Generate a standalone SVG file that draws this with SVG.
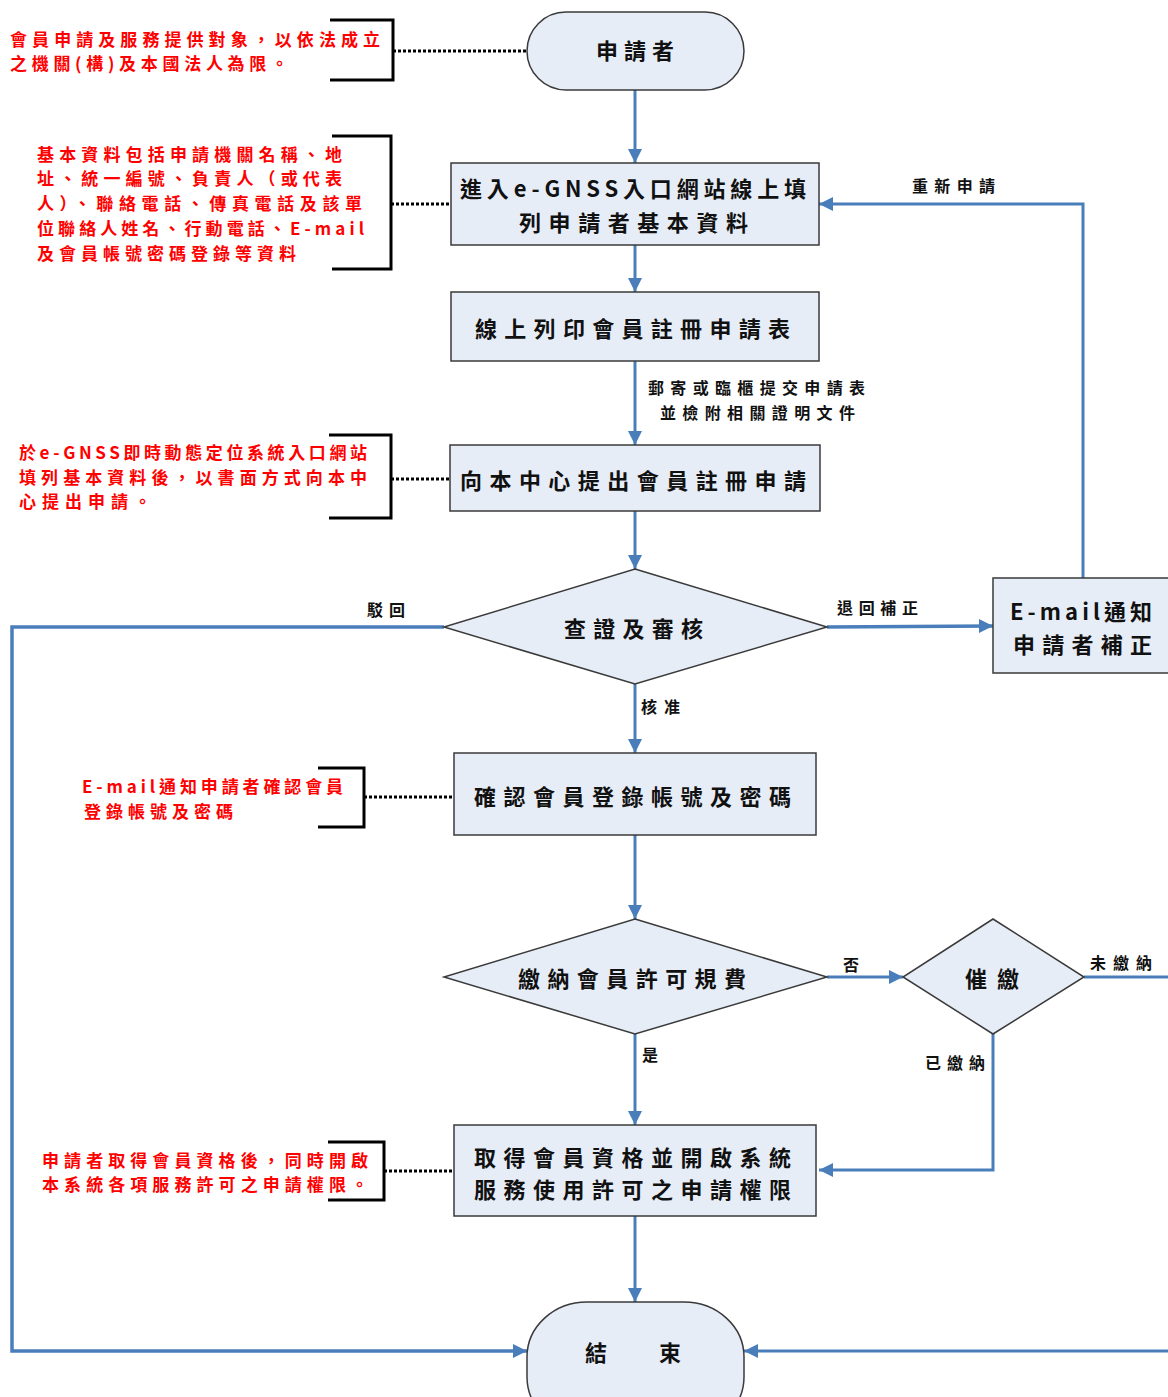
<svg xmlns="http://www.w3.org/2000/svg" width="1168" height="1397" viewBox="0 0 1168 1397">
<style>
.node{fill:#e7edf7;stroke:#3a3a3a;stroke-width:1.5}
.t{font-family:"Noto Sans CJK TC","Noto Sans CJK SC",sans-serif;font-weight:bold;font-size:22px;fill:#111}
.lbl{font-family:"Noto Sans CJK TC","Noto Sans CJK SC",sans-serif;font-weight:bold;font-size:16px;fill:#111}
.note{font-family:"Noto Sans CJK TC","Noto Sans CJK SC",sans-serif;font-weight:bold;font-size:17px;fill:#ff0000}
.flow{fill:none;stroke:#4a7ebb;stroke-width:3}
.thick{stroke-width:3.5}
.dot{fill:none;stroke:#000;stroke-width:3;stroke-dasharray:3 2}
.brk{fill:none;stroke:#000;stroke-width:3}
</style>
<defs>
<marker id="ah" viewBox="0 0 10 10" refX="10" refY="5" markerWidth="14" markerHeight="15" markerUnits="userSpaceOnUse" orient="auto">
<path d="M0,0 L10,5 L0,10 z" fill="#4a7ebb"/>
</marker>
</defs>
<rect width="1168" height="1397" fill="#fff"/>

<g id="connectors">
<path class="flow" d="M635,90 V163" marker-end="url(#ah)"/>
<path class="flow" d="M635,245 V292" marker-end="url(#ah)"/>
<path class="flow" d="M635,361 V445" marker-end="url(#ah)"/>
<path class="flow" d="M635,511 V569" marker-end="url(#ah)"/>
<path class="flow" d="M635,684 V753" marker-end="url(#ah)"/>
<path class="flow" d="M635,835 V919" marker-end="url(#ah)"/>
<path class="flow" d="M635,1034 V1125" marker-end="url(#ah)"/>
<path class="flow" d="M635,1216 V1302" marker-end="url(#ah)"/>
<path class="flow thick" d="M827,627 L993,626" marker-end="url(#ah)"/>
<path class="flow" d="M1083,578 V204 H819" marker-end="url(#ah)"/>
<path class="flow thick" d="M444,627 H12 V1351 H527" marker-end="url(#ah)"/>
<path class="flow" d="M827,977 H903" marker-end="url(#ah)"/>
<path class="flow" d="M1084,977 H1185 V1351 H744" marker-end="url(#ah)"/>
<path class="flow" d="M993,1034 V1170 H819" marker-end="url(#ah)"/>
<path class="dot" d="M393,51 H527"/>
<path class="dot" d="M391,204 H451"/>
<path class="dot" d="M391,479 H450"/>
<path class="dot" d="M364,797 H454"/>
<path class="dot" d="M384,1171 H454"/>
</g>

<g id="edge-labels">
<text class="lbl" x="912" y="192" textLength="83" lengthAdjust="spacing">重新申請</text>
<text class="lbl" x="648" y="394" textLength="217" lengthAdjust="spacing">郵寄或臨櫃提交申請表</text>
<text class="lbl" x="660" y="419" textLength="195" lengthAdjust="spacing">並檢附相關證明文件</text>
<text class="lbl" x="367" y="616" textLength="38" lengthAdjust="spacing">駁回</text>
<text class="lbl" x="837" y="614" textLength="81" lengthAdjust="spacing">退回補正</text>
<text class="lbl" x="641" y="713" textLength="39" lengthAdjust="spacing">核准</text>
<text class="lbl" x="843" y="971">否</text>
<text class="lbl" x="1090" y="969" textLength="62" lengthAdjust="spacing">未繳納</text>
<text class="lbl" x="925" y="1069" textLength="60" lengthAdjust="spacing">已繳納</text>
<text class="lbl" x="642" y="1061">是</text>
</g>

<g id="start">
<rect class="node" x="527" y="12" width="217" height="78" rx="39" ry="39"/>
<text class="t" x="596" y="59" textLength="78" lengthAdjust="spacing">申請者</text>
</g>

<g id="fill-basic">
<rect class="node" x="451" y="163" width="368" height="82"/>
<text class="t" x="460" y="197" textLength="346" lengthAdjust="spacing">進入e-GNSS入口網站線上填</text>
<text class="t" x="519" y="231" textLength="229" lengthAdjust="spacing">列申請者基本資料</text>
</g>

<g id="print-form">
<rect class="node" x="451" y="292" width="368" height="69"/>
<text class="t" x="475" y="337" textLength="315" lengthAdjust="spacing">線上列印會員註冊申請表</text>
</g>

<g id="submit">
<rect class="node" x="450" y="445" width="370" height="66"/>
<text class="t" x="460" y="489" textLength="346" lengthAdjust="spacing">向本中心提出會員註冊申請</text>
</g>

<g id="review">
<polygon class="node" points="635,569 827,627 635,684 444,627"/>
<text class="t" x="564" y="637" textLength="139" lengthAdjust="spacing">查證及審核</text>
</g>

<g id="email-correct">
<rect class="node" x="993" y="578" width="180" height="95"/>
<text class="t" x="1010" y="620" textLength="142" lengthAdjust="spacing">E-mail通知</text>
<text class="t" x="1013" y="653" textLength="139" lengthAdjust="spacing">申請者補正</text>
</g>

<g id="confirm">
<rect class="node" x="454" y="753" width="362" height="82"/>
<text class="t" x="474" y="805" textLength="317" lengthAdjust="spacing">確認會員登錄帳號及密碼</text>
</g>

<g id="pay">
<polygon class="node" points="635,919 827,977 635,1034 444,977"/>
<text class="t" x="518" y="987" textLength="228" lengthAdjust="spacing">繳納會員許可規費</text>
</g>

<g id="remind">
<polygon class="node" points="993,919 1084,977 993,1034 903,977"/>
<text class="t" x="965" y="987" textLength="54" lengthAdjust="spacing">催繳</text>
</g>

<g id="grant">
<rect class="node" x="454" y="1125" width="362" height="91"/>
<text class="t" x="474" y="1166" textLength="317" lengthAdjust="spacing">取得會員資格並開啟系統</text>
<text class="t" x="474" y="1198" textLength="317" lengthAdjust="spacing">服務使用許可之申請權限</text>
</g>

<g id="end">
<rect class="node" x="527" y="1302" width="217" height="130" rx="60" ry="55"/>
<text class="t" x="585" y="1361" textLength="96" lengthAdjust="spacing">結　　束</text>
</g>

<g id="note1">
<polyline class="brk" points="330,20 393,20 393,80 330,80"/>
<text class="note" x="10" y="46" textLength="370" lengthAdjust="spacing">會員申請及服務提供對象，以依法成立</text>
<text class="note" x="10" y="70" textLength="278" lengthAdjust="spacing">之機關(構)及本國法人為限。</text>
</g>

<g id="note2">
<polyline class="brk" points="332,136 391,136 391,269 332,269"/>
<text class="note" x="37" y="161" textLength="305" lengthAdjust="spacing">基本資料包括申請機關名稱、地</text>
<text class="note" x="37" y="185" textLength="305" lengthAdjust="spacing">址、統一編號、負責人（或代表</text>
<text class="note" x="37" y="210" textLength="325" lengthAdjust="spacing">人）、聯絡電話、傳真電話及該單</text>
<text class="note" x="37" y="235" textLength="327" lengthAdjust="spacing">位聯絡人姓名、行動電話、E-mail</text>
<text class="note" x="37" y="260" textLength="259" lengthAdjust="spacing">及會員帳號密碼登錄等資料</text>
</g>

<g id="note3">
<polyline class="brk" points="329,435 391,435 391,518 329,518"/>
<text class="note" x="19" y="459" textLength="348" lengthAdjust="spacing">於e-GNSS即時動態定位系統入口網站</text>
<text class="note" x="19" y="484" textLength="348" lengthAdjust="spacing">填列基本資料後，以書面方式向本中</text>
<text class="note" x="19" y="508" textLength="132" lengthAdjust="spacing">心提出申請。</text>
</g>

<g id="note4">
<polyline class="brk" points="318,768 364,768 364,827 318,827"/>
<text class="note" x="82" y="793" textLength="261" lengthAdjust="spacing">E-mail通知申請者確認會員</text>
<text class="note" x="84" y="818" textLength="149" lengthAdjust="spacing">登錄帳號及密碼</text>
</g>

<g id="note5">
<polyline class="brk" points="328,1142 384,1142 384,1200 328,1200"/>
<text class="note" x="42" y="1167" textLength="326" lengthAdjust="spacing">申請者取得會員資格後，同時開啟</text>
<text class="note" x="42" y="1191" textLength="326" lengthAdjust="spacing">本系統各項服務許可之申請權限。</text>
</g>
</svg>
